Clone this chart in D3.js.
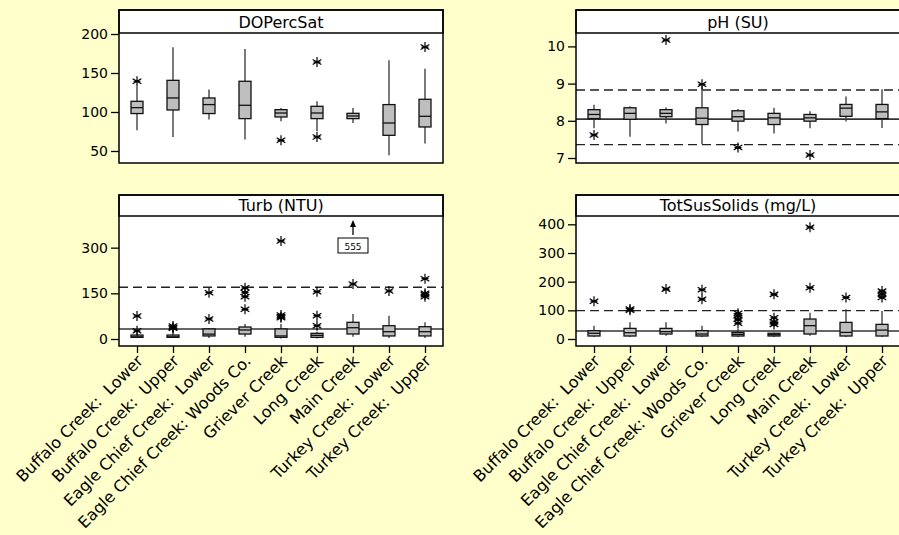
<!DOCTYPE html>
<html><head><meta charset="utf-8">
<script src="https://cdn.jsdelivr.net/npm/d3@7"></script>
<style>
body{margin:0;background:#FFFFCC;}
svg{display:block;background:#FFFFCC;}
text{font-family:"DejaVu Sans",Verdana,sans-serif;fill:#000;}
</style>
</head><body><svg id="c" width="899" height="535"></svg>
<script>
// ---------- DATA ----------
const categories = ["Buffalo Creek:  Lower","Buffalo Creek:  Upper","Eagle Chief Creek:  Lower",
  "Eagle Chief Creek: Woods Co.","Griever Creek","Long Creek","Main Creek",
  "Turkey Creek:  Lower","Turkey Creek:  Upper"];

// box stats per category: [lowWhisker, Q1, median, Q3, highWhisker]
const doBoxes = [[76.5,98,105.6,113.7,133],[68,102.6,118,140.6,183],[90.3,98,109.5,118,128.7],
  [64.6,91.5,108.6,139.4,180.8],[88,93.6,98.7,103,105],[75.3,91.5,98.7,107.3,113.7],
  [86,91.5,94.9,98.3,105],[44.5,70.1,85.9,109.5,166.3],[59.5,80.8,94.5,116.3,155.6]];
const doOutliers = [[139.4],[],[],[],[63.7],[164,68],[],[],[183.3]];
const doTicks = [50,100,150,200];

const phBoxes = [[7.8,8.06,8.17,8.30,8.43],[7.57,8.04,8.2,8.35,8.39],[7.93,8.11,8.2,8.3,8.36],
  [7.37,7.9,8.07,8.35,8.93],[7.71,7.99,8.11,8.27,8.32],[7.66,7.9,8.08,8.2,8.35],
  [7.8,7.99,8.08,8.17,8.26],[7.98,8.12,8.34,8.44,8.65],[7.81,8.06,8.24,8.44,8.85]];
const phOutliers = [[7.62],[],[10.17],[8.98],[7.28],[],[7.08],[],[]];
const phTicks = [7,8,9,10];
const phMean = 8.045, phLimits = [7.36, 8.83];

const turbBoxes = [[3,5.5,7,13,24],[3,5.5,7,13,30],[3,10,16,33,36],[7.7,16.4,29.6,39.4,49],
  [2,5.5,10,33,49],[2,5.5,12,18.7,24],[7.7,16.4,37,54.8,82],[3,10,24,43.7,76.6],[3,10,24,40.4,55]];
const turbOutliers = [[75.6,27],[42.7,35,38],[152,66],[168,153,139,97.6],[322,79,73,70],
  [155.5,76.6,43.7],[180.7],[157.7],[198,150,145,139]];
const turbOffScale = [{cat:"Main Creek", value:555}];
const turbTicks = [0,150,300];
const turbMean = 32.9, turbLimits = [170];

const tssBoxes = [[7,10.5,20,29,46.5],[7,10.5,22,37,58],[11.6,17.4,25.6,37,58],[7,10.5,17.4,29,46.5],
  [7,10.5,16.3,23,37],[7,10.5,15,20,22],[11.6,17.4,46.5,69.7,91.6],[7,10.5,23,58,103.5],[7,10.5,31,51,97.6]];
const tssOutliers = [[132],[105,100],[174],[172,139],[89.5,80,68.5,54.6],[155.7,74,60,51],
  [390,179],[145],[167,156,145]];
const tssTicks = [0,100,200,300,400];
const tssMean = 28, tssLimits = [99];

// ---------- LAYOUT ----------
const svg = d3.select("#c");
const panels = [
  {title:"DOPercSat", boxes:doBoxes, outliers:doOutliers, ticks:doTicks, domain:[34.6,201.3],
   x0:119, x1:443, top:10, strip:33, bottom:163, mean:null, limits:[], xAxis:false},
  {title:"pH (SU)", boxes:phBoxes, outliers:phOutliers, ticks:phTicks, domain:[6.866,10.36],
   x0:576, x1:900, top:10, strip:33, bottom:163, mean:phMean, limits:phLimits, xAxis:false},
  {title:"Turb (NTU)", boxes:turbBoxes, outliers:turbOutliers, ticks:turbTicks, domain:[-23,404],
   x0:119, x1:443, top:195, strip:216, bottom:346, mean:turbMean, limits:turbLimits, xAxis:true, offScale:turbOffScale},
  {title:"TotSusSolids (mg/L)", boxes:tssBoxes, outliers:tssOutliers, ticks:tssTicks, domain:[-24.4,429],
   x0:576, x1:900, top:195, strip:216, bottom:346, mean:tssMean, limits:tssLimits, xAxis:true}
];

const asterisk = {draw(ctx, size){
  const r = Math.sqrt(size)/2;
  for (let k=0;k<3;k++){
    const a = Math.PI/2 + k*Math.PI/3;
    ctx.moveTo(r*Math.cos(a), r*Math.sin(a));
    ctx.lineTo(-r*Math.cos(a), -r*Math.sin(a));
  }
  ctx.moveTo(-r*0.7,0); ctx.lineTo(r*0.7,0);
}};
const sym = d3.symbol().type(asterisk).size(100);

panels.forEach(p => {
  const g = svg.append("g");
  const x = d3.scalePoint().domain(categories).range([p.x0, p.x1]).padding(0.5);
  const y = d3.scaleLinear().domain(p.domain).range([p.bottom, p.strip]);
  const bw = 12;

  g.append("rect").attr("x",p.x0).attr("y",p.top).attr("width",p.x1-p.x0).attr("height",p.bottom-p.top)
    .attr("fill","#fff");

  p.limits.forEach(v => g.append("line").attr("x1",p.x0).attr("x2",p.x1).attr("y1",y(v)).attr("y2",y(v))
    .attr("stroke","#222").attr("stroke-width",1.4).attr("stroke-dasharray","9,5"));
  if (p.mean!==null) g.append("line").attr("x1",p.x0).attr("x2",p.x1).attr("y1",y(p.mean)).attr("y2",y(p.mean))
    .attr("stroke","#333").attr("stroke-width",1.6);

  const bx = g.selectAll("g.box").data(p.boxes).join("g").attr("class","box")
    .attr("transform",(d,i)=>`translate(${x(categories[i])},0)`);
  bx.append("line").attr("y1",d=>y(d[0])).attr("y2",d=>y(d[4])).attr("stroke","#333").attr("stroke-width",1.3);
  bx.append("rect").attr("x",-bw/2).attr("width",bw).attr("y",d=>y(d[3])).attr("height",d=>Math.max(1,y(d[1])-y(d[3])))
    .attr("fill","#BEBEBE").attr("stroke","#111").attr("stroke-width",1.3);
  bx.append("line").attr("x1",-bw/2).attr("x2",bw/2).attr("y1",d=>y(d[2])).attr("y2",d=>y(d[2]))
    .attr("stroke","#111").attr("stroke-width",1.3);

  p.outliers.forEach((arr,i) => {
    g.selectAll(null).data(arr).join("path")
      .attr("d", sym).attr("transform", v=>`translate(${x(categories[i])},${y(v)})`)
      .attr("stroke","#000").attr("stroke-width",1.2).attr("fill","none");
  });

  if (p.offScale) p.offScale.forEach(o => {
    const cx = x(o.cat);
    g.append("line").attr("x1",cx).attr("x2",cx).attr("y1",p.strip+19).attr("y2",p.strip+8)
      .attr("stroke","#000").attr("stroke-width",1.3);
    g.append("path").attr("d",`M${cx},${p.strip+4}L${cx-3},${p.strip+11}L${cx+3},${p.strip+11}Z`).attr("fill","#000");
    g.append("rect").attr("x",cx-15).attr("y",p.strip+22).attr("width",30).attr("height",15)
      .attr("fill","#fff").attr("stroke","#000").attr("stroke-width",1);
    g.append("text").attr("x",cx).attr("y",p.strip+33.5).attr("text-anchor","middle")
      .style("font-size","9px").text(o.value);
  });

  g.append("rect").attr("x",p.x0).attr("y",p.top).attr("width",p.x1-p.x0).attr("height",p.strip-p.top)
    .attr("fill","#fff").attr("stroke","#000").attr("stroke-width",1.5);
  g.append("rect").attr("x",p.x0).attr("y",p.top).attr("width",p.x1-p.x0).attr("height",p.bottom-p.top)
    .attr("fill","none").attr("stroke","#000").attr("stroke-width",1.5);
  g.append("text").attr("x",(p.x0+p.x1)/2).attr("y",p.strip-5).attr("text-anchor","middle")
    .style("font-size","16px").text(p.title);

  const ya = g.append("g").attr("transform",`translate(${p.x0},0)`)
    .call(d3.axisLeft(y).tickValues(p.ticks).tickSize(8).tickPadding(3).tickFormat(d3.format("d")));
  ya.select(".domain").remove();
  ya.selectAll(".tick line").attr("stroke","#000").attr("stroke-width",1.3);
  ya.selectAll(".tick text").style("font-size","14px").style("font-family","'DejaVu Sans',Verdana,sans-serif");

  if (p.xAxis){
    const xa = g.append("g").attr("transform",`translate(0,${p.bottom})`)
      .call(d3.axisBottom(x).tickSize(7).tickFormat(""));
    xa.select(".domain").remove();
    xa.selectAll(".tick line").attr("stroke","#000").attr("stroke-width",1.3);
    g.selectAll("text.cat").data(categories).join("text").attr("class","cat")
      .attr("transform",d=>`translate(${x(d)+3},${p.bottom+12}) rotate(-45)`)
      .attr("text-anchor","end").attr("dy","0.35em")
      .style("font-size","16px").style("white-space","pre").text(d=>d);
  }
});
</script>
</body></html>
